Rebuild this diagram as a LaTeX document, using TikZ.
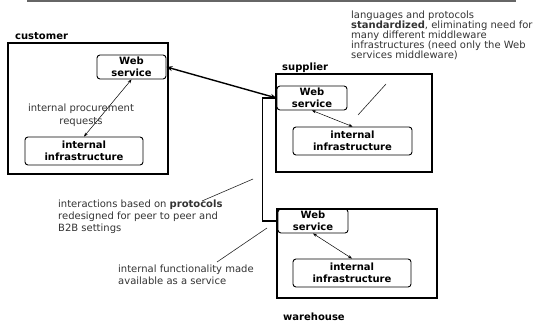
\documentclass[tikz,border=0pt]{standalone}
\usepackage{fontspec}
\setmainfont{DejaVu Sans}
\usetikzlibrary{arrows.meta}
\tikzset{
  outerbox/.style={draw, line width=1.4pt, minimum width=#1, inner sep=0pt},
  wsbox/.style={draw, line width=0.9pt, rounded corners=3pt, minimum width=70pt, minimum height=24pt, inner sep=0pt, font=\bfseries\fontsize{10}{12}\selectfont, align=center},
  iibox/.style={draw, line width=0.9pt, rounded corners=3pt, minimum width=118pt, minimum height=28pt, inner sep=0pt, font=\bfseries\fontsize{10}{12}\selectfont, align=center},
  grp/.style={font=\bfseries\fontsize{10}{12}\selectfont, inner sep=0pt, anchor=base west},
  anno/.style={font=\fontsize{10}{12}\selectfont, text=black!80, inner sep=0pt, align=left, anchor=north west},
  thinarrow/.style={line width=0.5pt, {Stealth[length=4pt,width=3pt]}-{Stealth[length=4pt,width=3pt]}},
  bigarrow/.style={line width=1.4pt, {Stealth[length=6pt,width=5pt]}-{Stealth[length=6pt,width=5pt]}},
  leader/.style={line width=0.6pt, black!85}
}
\begin{document}
\begin{tikzpicture}[x=1pt,y=-1pt]
\useasboundingbox (0,0) rectangle (537,326);
\draw[line width=1.6pt, black!60] (27,1) -- (516,1);

% customer
\node[outerbox=160pt, minimum height=131pt] (custbox) at (88,108.5) {};
\node[grp] (custlbl) at (15,40) {customer};
\node[wsbox, minimum width=69pt] (custws) at (131.5,67) {Web\\service};
\node[iibox] (custii) at (84,151) {internal\\infrastructure};
\draw[thinarrow] (custii.north) -- (custws.south);
\node[font=\fontsize{10}{12.5}\selectfont, text=black!80, inner sep=0pt, align=center, anchor=north] (procure) at (81,104) {internal procurement\\requests};

% supplier
\node[outerbox=156pt, minimum height=98pt] (supbox) at (354,123) {};
\node[grp] (suplbl) at (282,71) {supplier};
\node[wsbox] (supws) at (312,98) {Web\\service};
\node[iibox, minimum width=119pt] (supii) at (352.5,141) {internal\\infrastructure};
\draw[thinarrow] (supws.south) -- (supii.north);

% warehouse
\node[outerbox=160pt, minimum height=89pt] (whbox) at (357,253.5) {};
\node[grp] (whlbl) at (283,320) {warehouse};
\node[wsbox] (whws) at (313,221) {Web\\service};
\node[iibox] (whii) at (352,273) {internal\\infrastructure};
\draw[thinarrow] (whws.south) -- (whii.north);

% connectors
\draw[bigarrow] (custws.east) -- (supws.west);
\draw[line width=1.4pt] (supws.west) -- ++(-14,0) |- (whws.west);

% annotations
\node[anno, font=\fontsize{10}{10}\selectfont] (annotop) at (351,10.5) {languages and protocols\\\textbf{standardized}, eliminating need for\\many different middleware\\infrastructures (need only the Web\\services middleware)};
\coordinate (t1) at (386,84);
\coordinate (t2) at (358,115);
\draw[leader] (t1) -- (t2);

\node[anno] (annomid) at (58,200) {interactions based on \textbf{protocols}\\redesigned for peer to peer and\\B2B settings};
\coordinate (m1) at (202,201);
\coordinate (m2) at (253,179);
\draw[leader] (m1) -- (m2);

\node[anno] (annobot) at (118,265) {internal functionality made\\available as a service};
\coordinate (b1) at (217,262);
\coordinate (b2) at (267,228);
\draw[leader] (b1) -- (b2);
\end{tikzpicture}
\end{document}
